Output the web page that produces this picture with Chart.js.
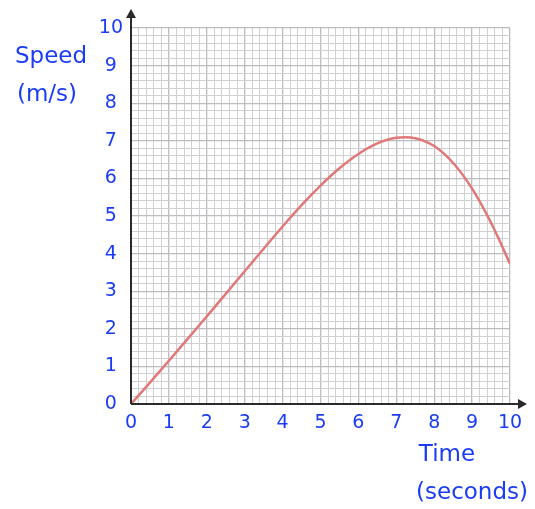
<!DOCTYPE html>
<html>
<head>
<meta charset="utf-8">
<script src="https://cdn.jsdelivr.net/npm/chart.js@4/dist/chart.umd.min.js"></script>
<style>
  html, body { margin: 0; padding: 0; background: #fff; }
  #wrap { width: 535px; height: 509px; }
</style>
</head>
<body>
<div id="wrap"><canvas id="speedChart"></canvas></div>
<script>
// values
const times = [0, 0.5, 1, 1.5, 2, 2.5, 3, 3.5, 4, 4.5, 5, 5.5, 6, 6.5, 7, 7.5, 8, 8.5, 9, 9.5, 10];
const speeds = [0, 0.57, 1.15, 1.74, 2.33, 2.93, 3.53, 4.13, 4.72, 5.29, 5.81, 6.27, 6.65, 6.93, 7.08, 7.07, 6.86, 6.41, 5.73, 4.82, 3.73];
const yTitle = ['Speed', '(m/s)'];
const xTitle = ['Time', '(seconds)'];

const blue = '#1a3cf5';
const font = "'Comic Sans MS', 'DejaVu Sans', sans-serif";

const isMajor = v => Math.abs(v - Math.round(v)) < 1e-6;
const gridColor = ctx => (ctx.tick && isMajor(ctx.tick.value)) ? '#bcbcc0' : '#d0d0d3';
const gridWidth = ctx => (ctx.tick && isMajor(ctx.tick.value)) ? 1.3 : 1;
const tickLabel = v => isMajor(v) ? String(Math.round(v)) : '';

const axesPlugin = {
    id: 'axes',
    afterDraw(chart) {
        const c = chart.ctx;
        const a = chart.chartArea;
        c.save();
        c.strokeStyle = '#2a2a2a';
        c.fillStyle = '#2a2a2a';
        c.lineWidth = 2;
        // y axis with arrow
        c.beginPath();
        c.moveTo(a.left, a.bottom);
        c.lineTo(a.left, 15);
        c.stroke();
        c.beginPath();
        c.moveTo(a.left, 9);
        c.lineTo(a.left - 5, 18);
        c.lineTo(a.left + 5, 18);
        c.closePath();
        c.fill();
        // x axis with arrow
        c.beginPath();
        c.moveTo(a.left, a.bottom);
        c.lineTo(521, a.bottom);
        c.stroke();
        c.beginPath();
        c.moveTo(527, a.bottom);
        c.lineTo(518, a.bottom - 5);
        c.lineTo(518, a.bottom + 5);
        c.closePath();
        c.fill();
        // titles
        c.fillStyle = blue;
        c.font = '23px ' + font;
        c.textAlign = 'center';
        c.textBaseline = 'middle';
        c.fillText(yTitle[0], 51, 57);
        c.fillText(yTitle[1], 47, 95);
        c.fillText(xTitle[0], 447, 455);
        c.fillText(xTitle[1], 472, 493);
        c.restore();
    }
};

new Chart(document.getElementById('speedChart'), {
    type: 'line',
    data: {
        datasets: [{
            data: times.map((t, i) => ({ x: t, y: speeds[i] })),
            borderColor: '#e07878',
            borderWidth: 2.5,
            pointRadius: 0,
            tension: 0.4,
            fill: false
        }]
    },
    options: {
        responsive: true,
        maintainAspectRatio: false,
        animation: false,
        layout: { padding: { left: 90, right: 25, top: 28, bottom: 0 } },
        plugins: { legend: { display: false }, tooltip: { enabled: false } },
        scales: {
            x: {
                type: 'linear',
                min: 0,
                max: 10,
                border: { display: false },
                grid: { color: gridColor, lineWidth: gridWidth, drawTicks: false },
                ticks: {
                    stepSize: 0.2,
                    autoSkip: false,
                    maxRotation: 0,
                    padding: 8,
                    color: blue,
                    font: { family: font, size: 19 },
                    callback: tickLabel
                },
                afterFit(scale) { scale.height = 105; }
            },
            y: {
                min: 0,
                max: 10,
                border: { display: false },
                grid: { color: gridColor, lineWidth: gridWidth, drawTicks: false },
                ticks: {
                    stepSize: 0.2,
                    autoSkip: false,
                    padding: 8,
                    color: blue,
                    crossAlign: 'center',
                    font: { family: font, size: 19 },
                    callback: tickLabel
                },
                afterFit(scale) { scale.width = 41; }
            }
        }
    },
    plugins: [axesPlugin]
});
</script>
</body>
</html>
